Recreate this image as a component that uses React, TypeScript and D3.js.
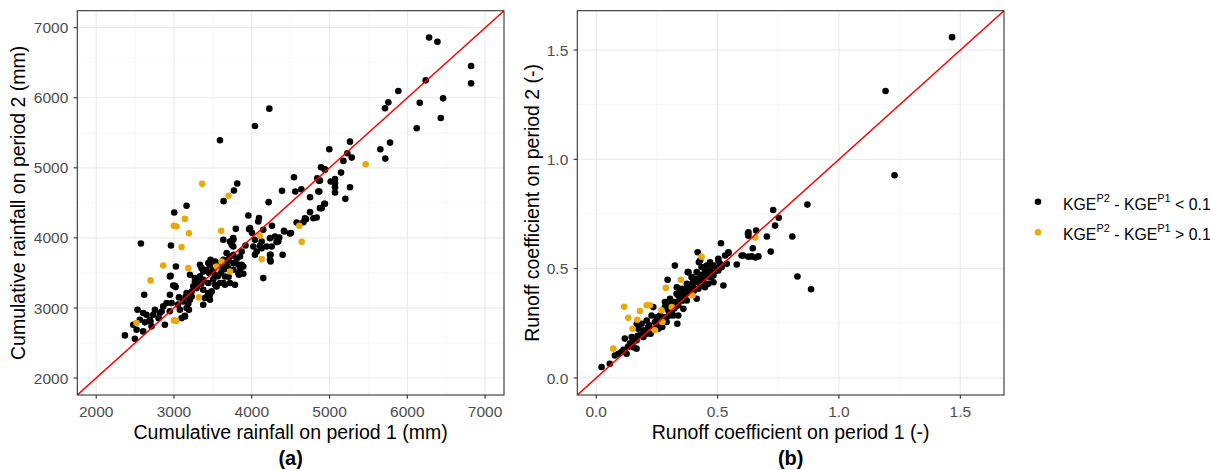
import React from "react";
import * as d3 from "d3";

// ---- Data ----
const rainBlack: [number, number][] = [
  [6280,6860],[6387,6800],[6820,6453],[6820,6206],[6460,5992],[6430,5712],[6160,5930],[6121,5565],[6237,6249],[5885,6097],[5756,5935],[5713,5850],[5778,5360],[5653,5265],[5717,5132],
  [4226,5845],[4041,5598],[3591,5394],[4997,5265],[5263,5374],[5229,5208],[5285,5146],[5178,5099],[5148,4932],[5263,4723],[5203,4557],[5070,4647],[5070,4780],[5015,4804],[4940,4971],[4890,5009],[4865,4814],[4877,4424],[4933,4486],[4856,4662],[4749,4581],[4834,4291],[4749,4367],[4792,4281],[4697,4267],[4663,4224],[4577,4220],[4543,4866],[4560,4662],[4637,4695],[4389,4671],[4414,4101],[4491,4063],[4397,3759],[4217,4510],[4260,4172],[4148,3426],[4242,3759],[4242,3664],[4319,3940],[4354,4006],[4093,4282],[4084,4234],[3956,4320],[3966,4124],[4003,4072],[4148,4115],[4041,3973],[4105,3887],[4191,3877],[4063,3806],[4041,3759],[3920,3892],[3813,4776],[3771,4676],[3638,4524],[3162,4458],[3003,4363],[3795,4129],[2961,3892],[2575,3920],[3025,3592],[2617,3188],[2948,3450],[2990,3321],[3021,3297],[2948,3188],[3064,3150],[2532,2974],[2476,2760],[2369,2608],[2497,2561],[2519,2689],[2604,2665],[2562,2832],[2604,2927],[2647,2903],[2733,2903],[2819,2927],[2883,2760],[2862,3022],[2905,3069],[2969,3069],[3098,2855],[3140,2889],[3076,2974],[3119,3093],[3162,3212],[3184,3060],[3192,2974],[3227,3164],[3248,3307],[3291,3402],[3334,3450],[3355,3568],[3376,3521],[3419,3545],[3470,3687],[3462,3616],[3505,3545],[3526,3473],[3591,3355],[3655,3331],[3720,3355],[3784,3331],[3376,3259],[3441,3212],[3484,3236],[3376,3046],[3419,3150],[3462,3117],[3548,3307],[3634,3973],[3720,3949],[3763,3973],[3763,3877],[3677,3782],[3720,3735],[3763,3640],[3827,3616],[3848,3545],[3891,3592],[3835,3473],[3891,3488],[3698,3568],[3600,3592],[3634,3687],[3291,3283],[3205,3473],[3269,3426],[2755,2974],[2690,2832],[2626,2794],[2712,2737],
  [2957,3459],[3012,3316],[3205,3117],[2841,2950],[3141,2878],[3162,2998],[3269,3378],[3334,3616],[3441,3640],
  [3977,4139],[4127,3948],[4234,3996],[4298,4019],[4341,3948],[4256,3877],[4127,3853],[4020,3877],[4234,3687],[4234,3758],[4418,4091],[3762,3996],[3741,3901],[3870,3806],[3849,3734],[3762,3758],[3698,3687],[3870,3616],[3827,3497],[3762,3544],[3677,3616],[3591,3640],[3527,3663],[3376,3402],[3441,3355],[3527,3330],[3634,3355],[3655,3449],[3462,3188],[3398,3141],[3227,3235],
  [5070,4723],[5070,4838],[4941,4980],[4842,4852],[4877,4818],[4868,4661],[4941,4486],[4899,4424],[4684,4281],[4504,4068],
  [3505,3408],[3562,3452],[3603,3498],[3648,3552],[3702,3446],[3806,3702],[3452,3498],[3352,3347],[3297,3310],[3148,3155],[3052,3047],[2803,2852],[2698,2806],[2946,2953]
];
const rainOrange: [number, number][] = [
  [5465,5051],[4612,4172],[4642,3944],[4105,4029],[4127,3697],[3702,4600],[3363,4771],[3140,4271],[2999,4172],[3033,4162],[3192,4067],[3608,4101],[3098,3868],[2862,3606],[3184,3568],[2699,3393],[3321,3150],[2519,2784],[3000,2822],[3030,2815],[3612,3663],[3720,3521],[3548,3591]
];
const rocBlack: [number, number][] = [
  [1.466,1.559],[1.192,1.313],[1.229,0.927],[0.870,0.793],[0.808,0.647],[0.829,0.464],[0.885,0.406],[0.729,0.768],[0.752,0.733],[0.737,0.697],[0.703,0.647],[0.719,0.578],[0.659,0.674],[0.627,0.666],[0.627,0.651],[0.645,0.593],[0.656,0.551],[0.627,0.555],[0.599,0.560],[0.579,0.519],[0.514,0.616],[0.524,0.423],[0.544,0.571],[0.531,0.560],[0.503,0.545],[0.510,0.522],[0.483,0.514],[0.469,0.491],[0.455,0.476],[0.418,0.575],[0.423,0.529],[0.434,0.507],[0.324,0.514],[0.377,0.484],[0.294,0.449],[0.400,0.453],[0.414,0.362],[0.386,0.400],[0.352,0.408],[0.331,0.385],[0.304,0.362],[0.283,0.347],[0.283,0.324],[0.297,0.309],[0.318,0.286],[0.334,0.248],[0.272,0.233],[0.235,0.324],[0.228,0.286],[0.224,0.202],[0.022,0.050],[0.056,0.065],[0.091,0.111],[0.118,0.119],[0.125,0.111],[0.118,0.180],[0.139,0.157],[0.153,0.141],[0.166,0.172],[0.180,0.195],[0.173,0.225],[0.187,0.248],[0.208,0.263],[0.194,0.218],[0.214,0.233],[0.242,0.256],[0.249,0.278],[0.263,0.286],[0.290,0.278],[0.304,0.286],[0.256,0.225],[0.290,0.256],[0.352,0.354],[0.366,0.377],[0.373,0.354],[0.359,0.316],[0.338,0.332],[0.324,0.347],[0.400,0.415],[0.428,0.431],[0.441,0.446],[0.448,0.415],[0.469,0.461],[0.483,0.469],[0.496,0.491],[0.517,0.507],[0.538,0.522],[0.455,0.514],[0.414,0.484],[0.393,0.461],[0.373,0.431],[0.421,0.408],[0.462,0.431],[0.483,0.438],[0.352,0.385],[0.311,0.347],[0.249,0.240],[0.194,0.187],[0.146,0.187],[0.104,0.119],[0.077,0.103],[0.428,0.537],[0.469,0.529],[0.373,0.408],[0.338,0.286],[0.208,0.202],[0.166,0.134],
  [0.167,0.248],[0.311,0.301],[0.304,0.332],[0.332,0.340],[0.625,0.659],[0.606,0.560],[0.641,0.556],[0.668,0.556],[0.545,0.575],[0.503,0.537],[0.469,0.522],[0.380,0.484],[0.332,0.415],[0.441,0.423],[0.503,0.492],[0.407,0.454],[0.359,0.355],[0.338,0.377],[0.318,0.340],[0.304,0.309],[0.283,0.278],[0.345,0.400],[0.394,0.431],[0.428,0.461],
  [0.262,0.268],[0.274,0.259],[0.301,0.297],[0.322,0.318],[0.341,0.352],[0.362,0.368],[0.381,0.392],[0.402,0.398],[0.418,0.438],[0.437,0.452],[0.459,0.467],[0.478,0.482],[0.498,0.503],[0.218,0.241],[0.199,0.212],[0.171,0.193],[0.151,0.168],[0.131,0.142],[0.112,0.129],[0.391,0.421],[0.431,0.472],[0.449,0.488],[0.368,0.383],[0.309,0.291]
];
const rocOrange: [number, number][] = [
  [0.656,0.642],[0.434,0.555],[0.349,0.449],[0.287,0.412],[0.397,0.377],[0.311,0.324],[0.269,0.309],[0.273,0.256],[0.221,0.332],[0.208,0.332],[0.180,0.306],[0.115,0.326],[0.132,0.275],[0.169,0.266],[0.150,0.225],[0.242,0.218],[0.070,0.134]
];

const rainTicks = [2000, 3000, 4000, 5000, 6000, 7000];
const rainMinor = [2500, 3500, 4500, 5500, 6500];
const rocTicks = [0, 0.5, 1.0, 1.5];
const rocMinor = [0.25, 0.75, 1.25];

const rainDomain: [number, number] = [1757, 7243];
const rocDomain: [number, number] = [-0.078, 1.68];

const BLACK = "#000000";
const ORANGE = "#E8A90E";
const FONT = "'Liberation Sans', Arial, Helvetica, sans-serif";

type PanelProps = {
  id: string;
  x0: number;
  x1: number;
  domain: [number, number];
  ticks: number[];
  minor: number[];
  fmt: (v: number) => string;
  black: [number, number][];
  orange: [number, number][];
  xTitle: string;
  yTitle: string;
  yTitleX: number;
  label: string;
};

const Y0 = 10.7;
const Y1 = 395;

function Panel(p: PanelProps) {
  const xs = d3.scaleLinear().domain(p.domain).range([p.x0, p.x1]);
  const ys = d3.scaleLinear().domain(p.domain).range([Y1, Y0]);
  const cx = (p.x0 + p.x1) / 2;
  const cy = (Y0 + Y1) / 2;
  const line = d3.line<number>().x((d) => xs(d)).y((d) => ys(d));
  return (
    <g>
      <defs>
        <clipPath id={p.id}>
          <rect x={p.x0} y={Y0} width={p.x1 - p.x0} height={Y1 - Y0} />
        </clipPath>
      </defs>
      <rect x={p.x0} y={Y0} width={p.x1 - p.x0} height={Y1 - Y0} fill="#fff" />
      {p.minor.map((t) => (
        <g key={"m" + t}>
          <line x1={xs(t)} x2={xs(t)} y1={Y0} y2={Y1} stroke="#F3F3F3" strokeWidth={0.7} />
          <line x1={p.x0} x2={p.x1} y1={ys(t)} y2={ys(t)} stroke="#F3F3F3" strokeWidth={0.7} />
        </g>
      ))}
      {p.ticks.map((t) => (
        <g key={"M" + t}>
          <line x1={xs(t)} x2={xs(t)} y1={Y0} y2={Y1} stroke="#EBEBEB" strokeWidth={1.2} />
          <line x1={p.x0} x2={p.x1} y1={ys(t)} y2={ys(t)} stroke="#EBEBEB" strokeWidth={1.2} />
        </g>
      ))}
      <g clipPath={`url(#${p.id})`}>
        {p.black.map((d, i) => (
          <circle key={"b" + i} cx={xs(d[0])} cy={ys(d[1])} r={3.3} fill={BLACK} />
        ))}
        {p.orange.map((d, i) => (
          <circle key={"o" + i} cx={xs(d[0])} cy={ys(d[1])} r={3.3} fill={ORANGE} />
        ))}
        <path d={line(p.domain) || ""} stroke="#FF0000" strokeWidth={1.5} fill="none" />
      </g>
      <rect x={p.x0} y={Y0} width={p.x1 - p.x0} height={Y1 - Y0} fill="none" stroke="#333333" strokeWidth={1.1} />
      {p.ticks.map((t) => (
        <g key={"t" + t}>
          <line x1={xs(t)} x2={xs(t)} y1={Y1} y2={Y1 + 3.7} stroke="#333333" strokeWidth={1.1} />
          <text x={xs(t)} y={416.5} textAnchor="middle" fontSize={15.5} fill="#4D4D4D" fontFamily={FONT}>
            {p.fmt(t)}
          </text>
          <line x1={p.x0 - 3.7} x2={p.x0} y1={ys(t)} y2={ys(t)} stroke="#333333" strokeWidth={1.1} />
          <text x={p.x0 - 9} y={ys(t)} dy="0.36em" textAnchor="end" fontSize={15.5} fill="#4D4D4D" fontFamily={FONT}>
            {p.fmt(t)}
          </text>
        </g>
      ))}
      <text x={cx} y={439} textAnchor="middle" fontSize={19.5} fill="#000" fontFamily={FONT}>
        {p.xTitle}
      </text>
      <text transform={`translate(${p.yTitleX},${cy}) rotate(-90)`} textAnchor="middle" fontSize={19.5} fill="#000" fontFamily={FONT}>
        {p.yTitle}
      </text>
      <text x={cx} y={465} textAnchor="middle" fontSize={20} fontWeight="bold" fill="#000" fontFamily={FONT}>
        {p.label}
      </text>
    </g>
  );
}

function LegendRow({ y, color, op }: { y: number; color: string; op: string }) {
  return (
    <g>
      <circle cx={1038} cy={y} r={3.3} fill={color} />
      <text x={1063} y={y + 8} fontSize={15.8} fill="#000" fontFamily={FONT}>
        KGE
        <tspan dy={-8} fontSize={11}>P2</tspan>
        <tspan dy={8}> - KGE</tspan>
        <tspan dy={-8} fontSize={11}>P1</tspan>
        <tspan dy={8}>{` ${op} 0.1`}</tspan>
      </text>
    </g>
  );
}

export default function App() {
  return (
    <svg
      width={1210}
      height={470}
      style={{ position: "absolute", left: 0, top: 0, background: "#fff" }}
    >
      <rect width={1210} height={470} fill="#fff" />
      <Panel
        id="clipA"
        x0={77.3}
        x1={504}
        domain={rainDomain}
        ticks={rainTicks}
        minor={rainMinor}
        fmt={(v) => String(v)}
        black={rainBlack}
        orange={rainOrange}
        xTitle="Cumulative rainfall on period 1 (mm)"
        yTitle="Cumulative rainfall on period 2 (mm)"
        yTitleX={25.3}
        label="(a)"
      />
      <Panel
        id="clipB"
        x0={577.3}
        x1={1004}
        domain={rocDomain}
        ticks={rocTicks}
        minor={rocMinor}
        fmt={(v) => d3.format(".1f")(v)}
        black={rocBlack}
        orange={rocOrange}
        xTitle="Runoff coefficient on period 1 (-)"
        yTitle="Runoff coefficient on period 2 (-)"
        yTitleX={539}
        label="(b)"
      />
      <LegendRow y={201.7} color={BLACK} op="<" />
      <LegendRow y={232.3} color={ORANGE} op=">" />
    </svg>
  );
}
